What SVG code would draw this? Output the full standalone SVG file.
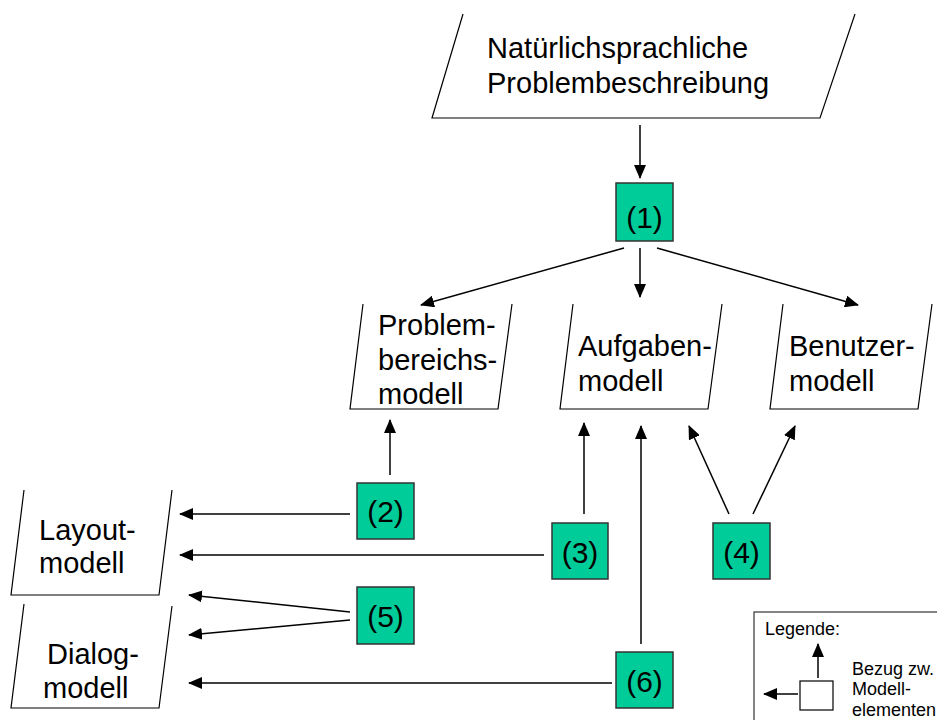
<svg xmlns="http://www.w3.org/2000/svg" width="937" height="720" viewBox="0 0 937 720">
  <style>
    text { font-family: "Liberation Sans", Arial, sans-serif; fill: #000; }
    .lbl { font-size: 29px; }
    .step { font-size: 30px; text-anchor: middle; }
    .leg { font-size: 18px; }
    .shape { fill: none; stroke: #000; stroke-width: 1.2; }
    .box { fill: #00CC99; stroke: #333; stroke-width: 1.5; }
    .conn { fill: none; stroke: #000; stroke-width: 1.5; }
    .arr { marker-end: url(#head); }
  </style>
  <defs>
    <marker id="head" markerUnits="userSpaceOnUse" markerWidth="14" markerHeight="12" refX="13" refY="6" orient="auto">
      <path d="M0,0 L14,6 L0,12 Z" fill="#000"/>
    </marker>
  </defs>
  <rect width="937" height="720" fill="#fff"/>

  <!-- model documents (open parallelograms) -->
  <g id="problembeschreibung">
    <polyline class="shape" points="463,14 432,118 820,118 855,14"/>
    <text class="lbl" x="487" y="58">Natürlichsprachliche</text>
    <text class="lbl" x="487" y="93">Problembeschreibung</text>
  </g>
  <g id="problembereichsmodell">
    <polyline class="shape" points="363,304 350,409 498,409 512,304"/>
    <text class="lbl" x="378" y="335">Problem-</text>
    <text class="lbl" x="378" y="370">bereichs-</text>
    <text class="lbl" x="378" y="404">modell</text>
  </g>
  <g id="aufgabenmodell">
    <polyline class="shape" points="573,304 560,409 708,409 722,304"/>
    <text class="lbl" x="578" y="356">Aufgaben-</text>
    <text class="lbl" x="578" y="391">modell</text>
  </g>
  <g id="benutzermodell">
    <polyline class="shape" points="783,304 770,409 918,409 932,304"/>
    <text class="lbl" x="789" y="356">Benutzer-</text>
    <text class="lbl" x="789" y="391">modell</text>
  </g>
  <g id="layoutmodell">
    <polyline class="shape" points="24,490 11,595 159,595 172,490"/>
    <text class="lbl" x="39" y="540">Layout-</text>
    <text class="lbl" x="39" y="573">modell</text>
  </g>
  <g id="dialogmodell">
    <polyline class="shape" points="24,604 11,708 159,708 172,606"/>
    <text class="lbl" x="47" y="664">Dialog-</text>
    <text class="lbl" x="43" y="698">modell</text>
  </g>

  <!-- processing steps -->
  <g id="step1">
    <rect class="box" x="616" y="183" width="57" height="58"/>
    <text class="step" x="644.5" y="228">(1)</text>
  </g>
  <g id="step2">
    <rect class="box" x="357" y="483" width="57" height="56"/>
    <text class="step" x="385.5" y="522">(2)</text>
  </g>
  <g id="step3">
    <rect class="box" x="552" y="523" width="56" height="56"/>
    <text class="step" x="580" y="563">(3)</text>
  </g>
  <g id="step4">
    <rect class="box" x="713" y="523" width="57" height="56"/>
    <text class="step" x="741.5" y="563">(4)</text>
  </g>
  <g id="step5">
    <rect class="box" x="357" y="587" width="57" height="57"/>
    <text class="step" x="385.5" y="627">(5)</text>
  </g>
  <g id="step6">
    <rect class="box" x="616" y="652" width="57" height="56"/>
    <text class="step" x="644.5" y="692">(6)</text>
  </g>

  <!-- connectors -->
  <g id="connectors">
    <line class="conn arr" x1="640" y1="125" x2="640" y2="178"/>
    <line class="conn arr" x1="624" y1="248" x2="421" y2="305"/>
    <line class="conn arr" x1="640" y1="248" x2="640" y2="297"/>
    <line class="conn arr" x1="657" y1="248" x2="858" y2="305"/>
    <line class="conn arr" x1="390" y1="475" x2="390" y2="420"/>
    <line class="conn arr" x1="350" y1="514" x2="180" y2="514"/>
    <line class="conn arr" x1="584" y1="514" x2="584" y2="423"/>
    <line class="conn arr" x1="544" y1="555" x2="180" y2="555"/>
    <line class="conn arr" x1="729" y1="514" x2="689" y2="426"/>
    <line class="conn arr" x1="753" y1="514" x2="795" y2="426"/>
    <line class="conn arr" x1="350" y1="612" x2="189" y2="595"/>
    <line class="conn arr" x1="350" y1="620" x2="189" y2="635"/>
    <line class="conn arr" x1="641" y1="644" x2="641" y2="426"/>
    <line class="conn arr" x1="612" y1="683" x2="189" y2="683"/>
  </g>

  <!-- legend -->
  <g id="legende">
    <rect x="754" y="612" width="200" height="120" fill="#fff" stroke="#333" stroke-width="1.2"/>
    <text class="leg" x="765" y="635">Legende:</text>
    <rect x="800" y="681" width="33" height="29" fill="#fff" stroke="#000" stroke-width="1.2"/>
    <line class="conn arr" x1="818" y1="678" x2="818" y2="644"/>
    <line class="conn arr" x1="798" y1="694" x2="764" y2="694"/>
    <text class="leg" x="852" y="675">Bezug zw.</text>
    <text class="leg" x="852" y="695">Modell-</text>
    <text class="leg" x="852" y="716">elementen</text>
  </g>
</svg>
